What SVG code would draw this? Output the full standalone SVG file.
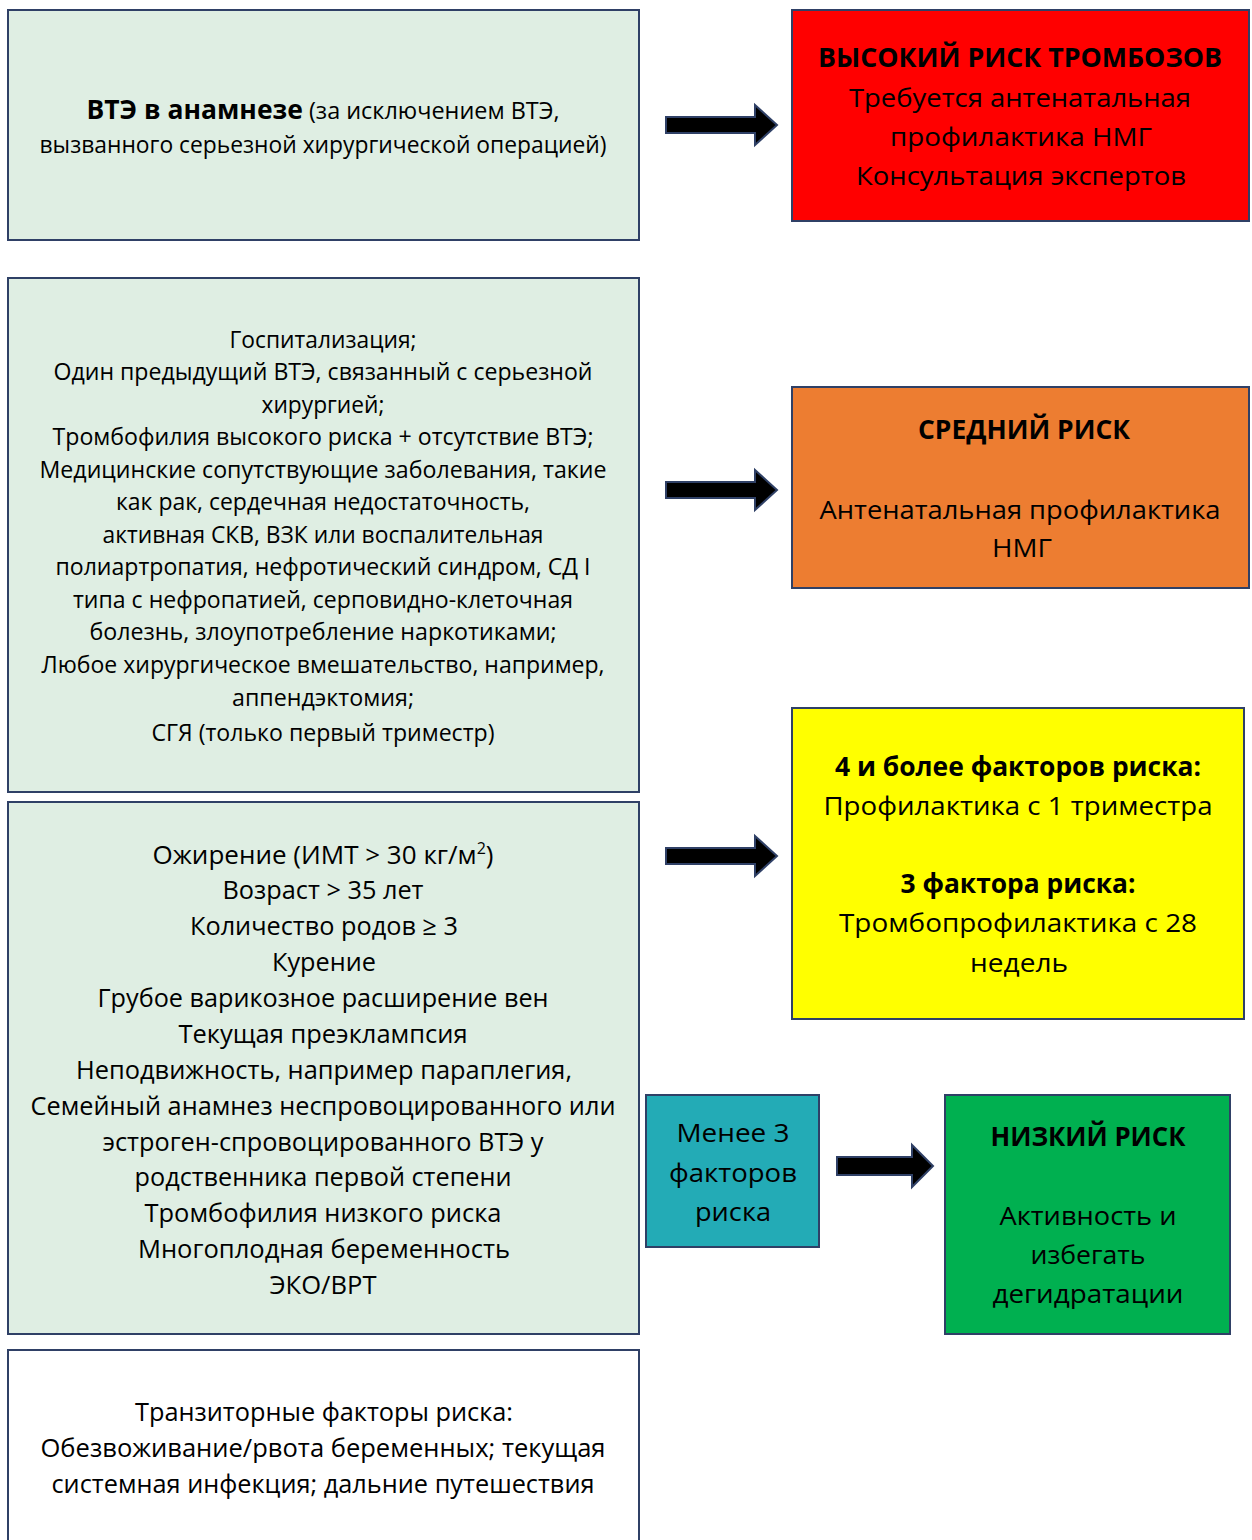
<svg xmlns="http://www.w3.org/2000/svg" width="1252" height="1540" viewBox="0 0 1252 1540">
<style>
.box{stroke:#2F4066;stroke-width:2}
.lg{fill:#DFEEE3}
text{font-family:"Open Sans","Noto Sans",sans-serif;fill:#000;text-anchor:middle}
.s22{font-size:23px}
.s25{font-size:26px}
.b{font-weight:bold}
.arrow{fill:#000;stroke:#2F4066;stroke-width:2;stroke-linejoin:miter}
</style>

<g id="connectors">
<path class="arrow" d="M666,117 H755 V105 L777,125 L755,145 V133 H666 Z"/>
<path class="arrow" d="M666,482 H755 V470 L777,490 L755,510 V498 H666 Z"/>
<path class="arrow" d="M666,848 H755 V836 L777,856 L755,876 V864 H666 Z"/>
<path class="arrow" d="M837,1157 H912 V1145 L933,1166 L912,1187 V1175 H837 Z"/>
</g>

<g id="n_history">
<rect class="box lg" x="8" y="10" width="631" height="230"/>
<text x="323" y="119" textLength="473" lengthAdjust="spacingAndGlyphs"><tspan class="b" font-size="26">ВТЭ в анамнезе</tspan><tspan font-size="23"> (за исключением ВТЭ,</tspan></text>
<text class="s22" x="323" y="153" textLength="567" lengthAdjust="spacingAndGlyphs">вызванного серьезной хирургической операцией)</text>
</g>

<g id="n_high">
<rect class="box" fill="#FF0000" x="792" y="10" width="457" height="211"/>
<text class="s25 b" x="1020" y="67" textLength="404" lengthAdjust="spacingAndGlyphs">ВЫСОКИЙ РИСК ТРОМБОЗОВ</text>
<text class="s25" x="1020" y="107" textLength="342" lengthAdjust="spacingAndGlyphs">Требуется антенатальная</text>
<text class="s25" x="1021" y="146" textLength="262" lengthAdjust="spacingAndGlyphs">профилактика НМГ</text>
<text class="s25" x="1021" y="185" textLength="330" lengthAdjust="spacingAndGlyphs">Консультация экспертов</text>
</g>

<g id="n_intermediate_factors">
<rect class="box lg" x="8" y="278" width="631" height="514"/>
<g class="s22">
<text x="323" y="348" textLength="187" lengthAdjust="spacingAndGlyphs">Госпитализация;</text>
<text x="323" y="380" textLength="539" lengthAdjust="spacingAndGlyphs">Один предыдущий ВТЭ, связанный с серьезной</text>
<text x="323" y="413" textLength="123" lengthAdjust="spacingAndGlyphs">хирургией;</text>
<text x="323" y="445" textLength="541" lengthAdjust="spacingAndGlyphs">Тромбофилия высокого риска + отсутствие ВТЭ;</text>
<text x="323" y="478" textLength="567" lengthAdjust="spacingAndGlyphs">Медицинские сопутствующие заболевания, такие</text>
<text x="323" y="510" textLength="414" lengthAdjust="spacingAndGlyphs">как рак, сердечная недостаточность,</text>
<text x="323" y="543" textLength="441" lengthAdjust="spacingAndGlyphs">активная СКВ, ВЗК или воспалительная</text>
<text x="323" y="575" textLength="535" lengthAdjust="spacingAndGlyphs">полиартропатия, нефротический синдром, СД I</text>
<text x="323" y="608" textLength="500" lengthAdjust="spacingAndGlyphs">типа с нефропатией, серповидно-клеточная</text>
<text x="323" y="640" textLength="467" lengthAdjust="spacingAndGlyphs">болезнь, злоупотребление наркотиками;</text>
<text x="323" y="673" textLength="563" lengthAdjust="spacingAndGlyphs">Любое хирургическое вмешательство, например,</text>
<text x="323" y="706" textLength="182" lengthAdjust="spacingAndGlyphs">аппендэктомия;</text>
<text x="323" y="741" textLength="343" lengthAdjust="spacingAndGlyphs">СГЯ (только первый триместр)</text>
</g>
</g>

<g id="n_medium">
<rect class="box" fill="#ED7D31" x="792" y="387" width="457" height="201"/>
<text class="s25 b" x="1024" y="439" textLength="212" lengthAdjust="spacingAndGlyphs">СРЕДНИЙ РИСК</text>
<text class="s25" x="1020" y="519" textLength="401" lengthAdjust="spacingAndGlyphs">Антенатальная профилактика</text>
<text class="s25" x="1022" y="557" textLength="60" lengthAdjust="spacingAndGlyphs">НМГ</text>
</g>

<g id="n_minor_factors">
<rect class="box lg" x="8" y="802" width="631" height="532"/>
<g class="s25">
<text x="323" y="864" textLength="341" lengthAdjust="spacingAndGlyphs">Ожирение (ИМТ &gt; 30 кг/м<tspan font-size="16" dy="-10">2</tspan><tspan dy="10">)</tspan></text>
<text x="323" y="899" textLength="201" lengthAdjust="spacingAndGlyphs">Возраст &gt; 35 лет</text>
<text x="324" y="935" textLength="268" lengthAdjust="spacingAndGlyphs">Количество родов ≥ 3</text>
<text x="324" y="971" textLength="104" lengthAdjust="spacingAndGlyphs">Курение</text>
<text x="323" y="1007" textLength="451" lengthAdjust="spacingAndGlyphs">Грубое варикозное расширение вен</text>
<text x="323" y="1043" textLength="289" lengthAdjust="spacingAndGlyphs">Текущая преэклампсия</text>
<text x="324" y="1079" textLength="496" lengthAdjust="spacingAndGlyphs">Неподвижность, например параплегия,</text>
<text x="323" y="1115" textLength="585" lengthAdjust="spacingAndGlyphs">Семейный анамнез неспровоцированного или</text>
<text x="323" y="1151" textLength="441" lengthAdjust="spacingAndGlyphs">эстроген-спровоцированного ВТЭ у</text>
<text x="323" y="1186" textLength="377" lengthAdjust="spacingAndGlyphs">родственника первой степени</text>
<text x="323" y="1222" textLength="357" lengthAdjust="spacingAndGlyphs">Тромбофилия низкого риска</text>
<text x="324" y="1258" textLength="372" lengthAdjust="spacingAndGlyphs">Многоплодная беременность</text>
<text x="323" y="1294" textLength="107" lengthAdjust="spacingAndGlyphs">ЭКО/ВРТ</text>
</g>
</g>

<g id="n_prophylaxis">
<rect class="box" fill="#FFFF00" x="792" y="708" width="452" height="311"/>
<text class="s25 b" x="1018" y="776" textLength="366" lengthAdjust="spacingAndGlyphs">4 и более факторов риска:</text>
<text class="s25" x="1018" y="815" textLength="389" lengthAdjust="spacingAndGlyphs">Профилактика с 1 триместра</text>
<text class="s25 b" x="1018" y="893" textLength="235" lengthAdjust="spacingAndGlyphs">3 фактора риска:</text>
<text class="s25" x="1018" y="932" textLength="358" lengthAdjust="spacingAndGlyphs">Тромбопрофилактика с 28</text>
<text class="s25" x="1019" y="972" textLength="98" lengthAdjust="spacingAndGlyphs">недель</text>
</g>

<g id="n_less3">
<rect class="box" fill="#23ABB6" x="646" y="1095" width="173" height="152"/>
<text class="s25" x="733" y="1142" textLength="113" lengthAdjust="spacingAndGlyphs">Менее 3</text>
<text class="s25" x="733" y="1182" textLength="128" lengthAdjust="spacingAndGlyphs">факторов</text>
<text class="s25" x="733" y="1221" textLength="76" lengthAdjust="spacingAndGlyphs">риска</text>
</g>

<g id="n_low">
<rect class="box" fill="#00B050" x="945" y="1095" width="285" height="239"/>
<text class="s25 b" x="1088" y="1146" textLength="195" lengthAdjust="spacingAndGlyphs">НИЗКИЙ РИСК</text>
<text class="s25" x="1088" y="1225" textLength="177" lengthAdjust="spacingAndGlyphs">Активность и</text>
<text class="s25" x="1088" y="1264" textLength="115" lengthAdjust="spacingAndGlyphs">избегать</text>
<text class="s25" x="1088" y="1303" textLength="191" lengthAdjust="spacingAndGlyphs">дегидратации</text>
</g>

<g id="n_transient">
<rect class="box" fill="#FFFFFF" x="8" y="1350" width="631" height="220"/>
<text class="s25" x="324" y="1421" textLength="378" lengthAdjust="spacingAndGlyphs">Транзиторные факторы риска:</text>
<text class="s25" x="323" y="1457" textLength="565" lengthAdjust="spacingAndGlyphs">Обезвоживание/рвота беременных; текущая</text>
<text class="s25" x="323" y="1493" textLength="543" lengthAdjust="spacingAndGlyphs">системная инфекция; дальние путешествия</text>
</g>
</svg>
